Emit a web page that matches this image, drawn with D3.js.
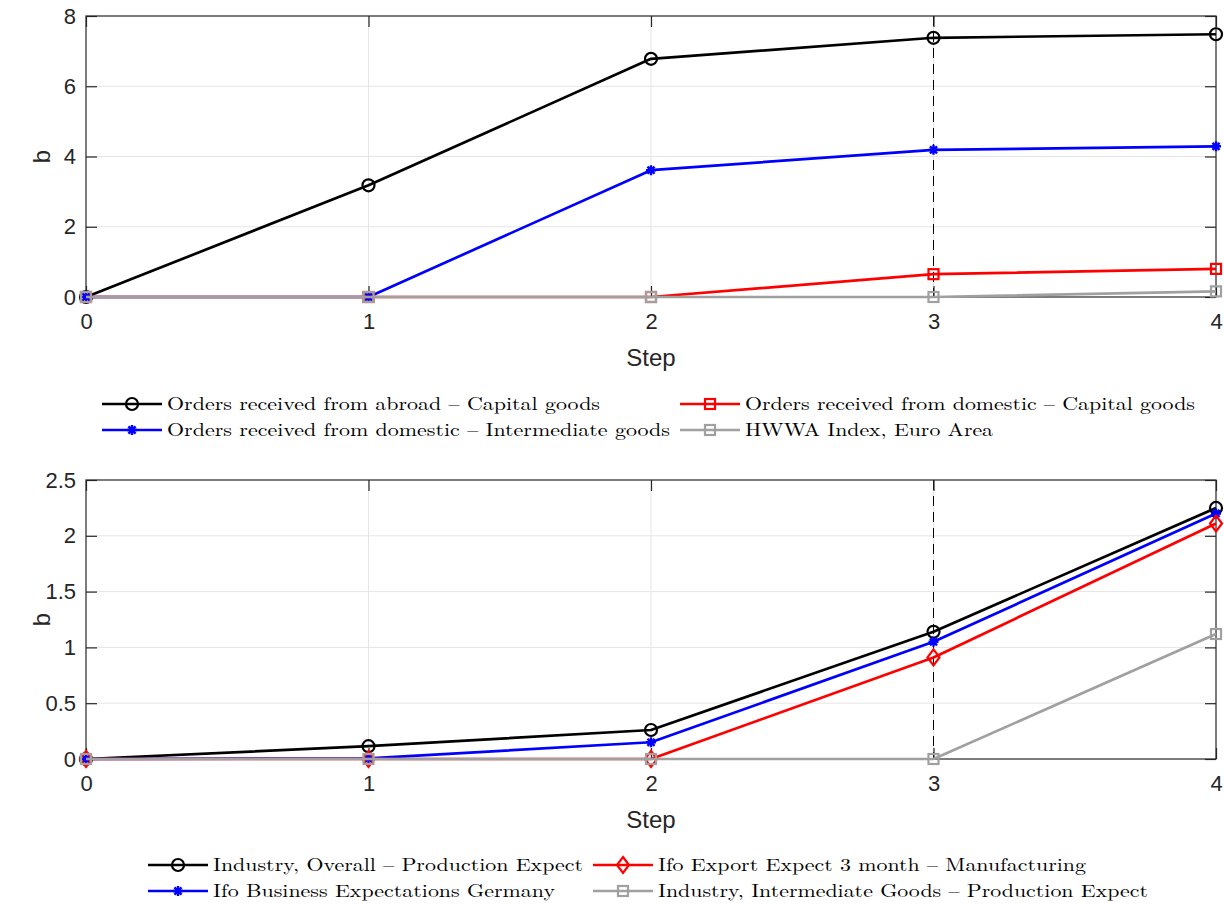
<!DOCTYPE html>
<html><head><meta charset="utf-8">
<script src="https://cdn.jsdelivr.net/npm/d3@7"></script>
<style>body{margin:0;background:#fff}svg{display:block}</style>
</head><body>
<script>
const steps = [0, 1, 2, 3, 4];

const topNames = ["Orders received from abroad \u2013 Capital goods", "Orders received from domestic \u2013 Intermediate goods", "Orders received from domestic \u2013 Capital goods", "HWWA Index, Euro Area"];
const topAbroadCapital = [0, 3.18, 6.78, 7.38, 7.48];
const topDomesticInter = [0, 0, 3.61, 4.19, 4.29];
const topDomesticCapital = [0, 0, 0, 0.65, 0.80];
const topHWWA = [0, 0, 0, 0, 0.16];
const topTicks = [0, 2, 4, 6, 8];

const botNames = ["Industry, Overall \u2013 Production Expect", "Ifo Business Expectations Germany", "Ifo Export Expect 3 month \u2013 Manufacturing", "Industry, Intermediate Goods \u2013 Production Expect"];
const botOverall = [0, 0.115, 0.26, 1.14, 2.25];
const botIfoBusiness = [0, 0.005, 0.15, 1.05, 2.20];
const botIfoExport = [0, 0, 0, 0.91, 2.11];
const botInterGoods = [0, 0, 0, 0, 1.12];
const botTicks = [0, 0.5, 1, 1.5, 2, 2.5];
const botTickLabels = ["0", "0.5", "1", "1.5", "2", "2.5"];

const W = 1224, H = 904;
const svg = d3.select("body").append("svg").attr("width", W).attr("height", H);
const axisColor = "#262626";

function drawMarker(g, type, color, x, y) {
  if (type === "circle") {
    g.append("circle").attr("cx", x).attr("cy", y).attr("r", 6).attr("fill", "none").attr("stroke", color).attr("stroke-width", 2.2);
  } else if (type === "square") {
    g.append("rect").attr("x", x - 5).attr("y", y - 5).attr("width", 10).attr("height", 10).attr("fill", "none").attr("stroke", color).attr("stroke-width", 2.2);
  } else if (type === "diamond") {
    g.append("path").attr("d", `M${x},${y-8}L${x+6},${y}L${x},${y+8}L${x-6},${y}Z`).attr("fill", "none").attr("stroke", color).attr("stroke-width", 2.2);
  } else if (type === "star") {
    const r = 5;
    let d = "";
    for (let i = 0; i < 4; i++) {
      const a = i * Math.PI / 4;
      d += `M${x - r*Math.cos(a)},${y - r*Math.sin(a)}L${x + r*Math.cos(a)},${y + r*Math.sin(a)}`;
    }
    g.append("path").attr("d", d).attr("stroke", color).attr("stroke-width", 2.4).attr("fill", "none");
  }
}

function panel(opts) {
  const {top, bottom, yMax, ticks, tickLabels, series, legend} = opts;
  const left = 86, right = 1216;
  const x = d3.scaleLinear().domain([0, 4]).range([left, right]);
  const y = d3.scaleLinear().domain([0, yMax]).range([bottom, top]);
  const g = svg.append("g");

  // grid
  g.selectAll(".gy").data(ticks.slice(1, -1)).enter().append("line")
    .attr("x1", left).attr("x2", right).attr("y1", d => y(d)).attr("y2", d => y(d))
    .attr("stroke", "#e5e5e5").attr("stroke-width", 1);
  g.selectAll(".gx").data(steps.slice(1, -1)).enter().append("line")
    .attr("y1", top).attr("y2", bottom).attr("x1", d => x(d)).attr("x2", d => x(d))
    .attr("stroke", "#e5e5e5").attr("stroke-width", 1);

  // dashed vertical at step 3
  g.append("line").attr("x1", x(3)).attr("x2", x(3)).attr("y1", top).attr("y2", bottom)
    .attr("stroke", "#000").attr("stroke-width", 1).attr("stroke-dasharray", "10,6");

  // axes (box)
  const ay = d3.axisLeft(y).tickValues(ticks).tickFormat((d, i) => tickLabels[i]).tickSize(-11).tickPadding(10);
  const ayR = d3.axisRight(y).tickValues(ticks).tickFormat("").tickSize(-11);
  const ax = d3.axisBottom(x).tickValues(steps).tickFormat(d3.format("d")).tickSize(-11).tickPadding(16);
  const axT = d3.axisTop(x).tickValues(steps).tickFormat("").tickSize(-11);
  const style = sel => {
    sel.select(".domain").attr("stroke", axisColor).attr("stroke-width", 1.2);
    sel.selectAll(".tick line").attr("stroke", axisColor).attr("stroke-width", 1.2);
    sel.selectAll("text").attr("fill", axisColor).style("font-family", "'Liberation Sans', Arial, sans-serif").style("font-size", "22px");
  };
  g.append("g").attr("transform", `translate(${left},0)`).call(ay).call(style);
  g.append("g").attr("transform", `translate(${right},0)`).call(ayR).call(style);
  g.append("g").attr("transform", `translate(0,${bottom})`).call(ax).call(style);
  g.append("g").attr("transform", `translate(0,${top})`).call(axT).call(style);
  g.selectAll(".domain").attr("d", null);
  g.append("rect").attr("x", left).attr("y", top).attr("width", right - left).attr("height", bottom - top)
    .attr("fill", "none").attr("stroke", axisColor).attr("stroke-width", 1.2);

  // labels
  g.append("text").attr("x", (left + right) / 2).attr("y", bottom + 69).attr("text-anchor", "middle")
    .attr("fill", axisColor).style("font-family", "'Liberation Sans', Arial, sans-serif").style("font-size", "24px").text("Step");
  g.append("text").attr("transform", `translate(${50},${(top + bottom) / 2}) rotate(-90)`).attr("text-anchor", "middle")
    .attr("fill", axisColor).style("font-family", "'Liberation Sans', Arial, sans-serif").style("font-size", "24px").text("b");

  // series in plotting order (later series on top)
  const line = d3.line().x((d, i) => x(steps[i])).y(d => y(d));
  series.forEach(s => {
    g.append("path").attr("d", line(s.values)).attr("fill", "none").attr("stroke", s.color).attr("stroke-width", 2.7).attr("stroke-linejoin", "round");
    s.values.forEach((v, i) => drawMarker(g, s.marker, s.color, x(steps[i]), y(v)));
  });

  // legend
  legend.items.forEach(it => {
    const s = series[it.idx];
    const lg = svg.append("g");
    lg.append("line").attr("x1", it.x).attr("x2", it.x + 60).attr("y1", it.y).attr("y2", it.y)
      .attr("stroke", s.color).attr("stroke-width", 2.7);
    drawMarker(lg, s.marker, s.color, it.x + 30, it.y);
    lg.append("text").attr("x", it.x + 65).attr("y", it.y + 6)
      .attr("textLength", it.w).attr("lengthAdjust", "spacingAndGlyphs")
      .style("font-family", "'Latin Modern Roman','Liberation Serif','DejaVu Serif',serif").style("font-size", "18px")
      .attr("fill", "#000").text(s.name);
  });
}

panel({
  top: 16, bottom: 297, yMax: 8, ticks: topTicks, tickLabels: topTicks.map(String),
  series: [
    {name: topNames[0], values: topAbroadCapital, color: "#000000", marker: "circle"},
    {name: topNames[1], values: topDomesticInter, color: "#0000ff", marker: "star"},
    {name: topNames[2], values: topDomesticCapital, color: "#ff0000", marker: "square"},
    {name: topNames[3], values: topHWWA, color: "#a0a0a0", marker: "square"}
  ],
  legend: {items: [
    {idx: 0, x: 102, y: 404, w: 433},
    {idx: 1, x: 102, y: 430, w: 503},
    {idx: 2, x: 680, y: 404, w: 450},
    {idx: 3, x: 680, y: 430, w: 248}
  ]}
});

panel({
  top: 480, bottom: 759, yMax: 2.5, ticks: botTicks, tickLabels: botTickLabels,
  series: [
    {name: botNames[0], values: botOverall, color: "#000000", marker: "circle"},
    {name: botNames[1], values: botIfoBusiness, color: "#0000ff", marker: "star"},
    {name: botNames[2], values: botIfoExport, color: "#ff0000", marker: "diamond"},
    {name: botNames[3], values: botInterGoods, color: "#a0a0a0", marker: "square"}
  ],
  legend: {items: [
    {idx: 0, x: 148, y: 865, w: 370},
    {idx: 1, x: 148, y: 891, w: 342},
    {idx: 2, x: 593, y: 865, w: 428},
    {idx: 3, x: 593, y: 891, w: 490}
  ]}
});
</script>
</body></html>
